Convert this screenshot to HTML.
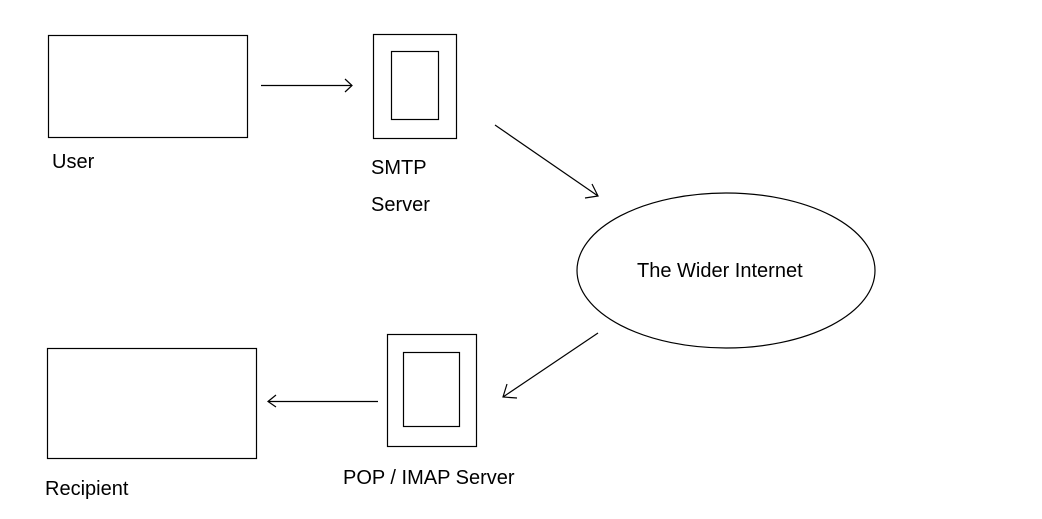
<!DOCTYPE html>
<html><head><style>body{margin:0;background:#fff}svg{display:block}</style></head><body>
<svg width="1042" height="519" xmlns="http://www.w3.org/2000/svg" font-family="Liberation Sans, sans-serif" font-size="20">
<g fill="none" stroke="#000" stroke-width="1.2">
<rect x="48.5" y="35.5" width="199" height="102"/>
<rect x="373.5" y="34.5" width="83" height="104"/>
<rect x="391.5" y="51.5" width="47" height="68"/>
<rect x="47.5" y="348.5" width="209" height="110"/>
<rect x="387.5" y="334.5" width="89" height="112"/>
<rect x="403.5" y="352.5" width="56" height="74"/>
<ellipse cx="726" cy="270.5" rx="149" ry="77.5"/>
<line x1="261" y1="85.5" x2="352" y2="85.5"/>
<polyline points="345,79 352,85.5 345,92"/>
<line x1="495" y1="125" x2="598" y2="196"/>
<polyline points="592,184 598,196 585,198"/>
<line x1="598" y1="333" x2="503" y2="397"/>
<polyline points="507,384 503,397 517,398"/>
<line x1="378" y1="401.5" x2="268" y2="401.5"/>
<polyline points="276,395 268,401.5 276,407"/>
</g>
<g fill="#000">
<text x="52" y="168">User</text>
<text x="371" y="174">SMTP</text>
<text x="371" y="211">Server</text>
<text x="637" y="277">The Wider Internet</text>
<text x="343" y="484">POP / IMAP Server</text>
<text x="45" y="495">Recipient</text>
</g>
</svg>
</body></html>
